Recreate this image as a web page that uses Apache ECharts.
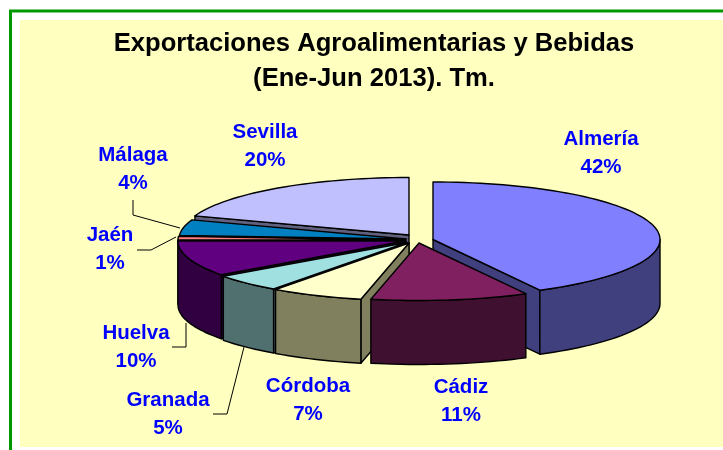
<!DOCTYPE html>
<html>
<head>
<meta charset="utf-8">
<style>
  html, body { margin: 0; padding: 0; background: #fff; }
  #chart { width: 723px; height: 450px; }
</style>
<script src="https://cdn.jsdelivr.net/npm/echarts@6/dist/echarts.min.js"></script>
</head>
<body>
<div id="chart"></div>
<script>
// data, shares estimated from the slice edges; labels show them rounded
const provinces = ['Almería', 'Cádiz', 'Córdoba', 'Granada', 'Huelva', 'Jaén', 'Málaga', 'Sevilla']
const shares = [42.2, 11.2, 6.6, 5, 10, 1, 4.4, 19.6]

// slice colours, top face and walls
const topColors = ['#8080FF', '#802060', '#FFFFCC', '#A0E0E0', '#600080', '#FF8080', '#0080C0', '#C0C0FF']
const sideColors = ['#40407F', '#401030', '#80805F', '#507070', '#300040', '#7F4040', '#004060', '#60607F']

// pie layout: apex of each slice after explosion, same order as provinces
const apexX = [433, 419, 409, 407, 405, 405, 406, 409]
const apexY = [239.5, 243, 243, 242.5, 241, 240, 239, 235]
const radiusX = 227
const radiusY = 57.5
const depth = 64

// back to front
const drawOrder = [7, 6, 5, 4, 3, 2, 0, 1]

// label centres and leader lines
const labelX = [601, 461, 308, 168, 136, 110, 133, 265]
const labelY = [153, 401, 400, 414, 347, 249, 169, 146]
const leaders = [
  [[133, 200], [133, 215], [180, 228]],
  [[176, 237], [151, 250], [137, 250]],
  [[186, 323], [186, 347], [172, 347]],
  [[244, 347], [227, 414], [213, 414]]
]

// cumulative start angle of each slice, clockwise from 12 o'clock
const total = shares.reduce((a, b) => a + b, 0)
const startAngles = []
let acc = 0
shares.forEach((v) => {
  startAngles.push((acc / total) * 360)
  acc += v
})

function rim(i, deg, drop) {
  const r = (deg * Math.PI) / 180
  return [apexX[i] + radiusX * Math.sin(r), apexY[i] - radiusY * Math.cos(r) + (drop || 0)]
}

function arcPoints(i, from, to, drop) {
  const pts = []
  const n = Math.max(2, Math.ceil(Math.abs(to - from) / 2))
  for (let k = 0; k <= n; k++) {
    pts.push(rim(i, from + ((to - from) * k) / n, drop))
  }
  return pts
}

function face(points, fill) {
  return {
    type: 'polygon',
    shape: { points },
    style: { fill, stroke: '#000', lineWidth: 1.4, lineJoin: 'round' }
  }
}

function renderSlice(params, api) {
  const i = api.value(0)
  const a = startAngles[i]
  const b = a + (shares[i] / total) * 360
  const apex = [apexX[i], apexY[i]]
  const apexLow = [apexX[i], apexY[i] + depth]
  const children = []

  // cut walls, only those that face the viewer
  const sinA = Math.sin((a * Math.PI) / 180)
  const sinB = Math.sin((b * Math.PI) / 180)
  if (sinA < -0.001) {
    children.push(face([apex, rim(i, a), rim(i, a, depth), apexLow], sideColors[i]))
  }
  if (sinB > 0.001) {
    children.push(face([apex, rim(i, b), rim(i, b, depth), apexLow], sideColors[i]))
  }

  // outer wall, front half of the ellipse
  const from = Math.max(a, 90)
  const to = Math.min(b, 270)
  if (to > from) {
    const upper = arcPoints(i, from, to, 0)
    const lower = arcPoints(i, from, to, depth).reverse()
    children.push(face(upper.concat(lower), sideColors[i]))
  }

  // top face
  children.push(face([apex].concat(arcPoints(i, a, b, 0)), topColors[i]))

  return { type: 'group', children }
}

function renderLabel(params, api) {
  const i = api.value(0)
  return {
    type: 'text',
    x: labelX[i],
    y: labelY[i],
    style: {
      text: provinces[i] + '\n' + Math.round(shares[i]) + '%',
      fill: '#0000FF',
      font: 'bold 20.5px "Liberation Sans", Arial, sans-serif',
      lineHeight: 28,
      align: 'center',
      verticalAlign: 'middle'
    }
  }
}

const chart = echarts.init(document.getElementById('chart'), null, { renderer: 'canvas' })

chart.setOption({
  animation: false,
  title: {
    text: 'Exportaciones Agroalimentarias y Bebidas\n(Ene-Jun 2013). Tm.',
    left: 369,
    top: 21,
    textAlign: 'center',
    textStyle: {
      fontFamily: '"Liberation Sans", Arial, sans-serif',
      fontWeight: 'bold',
      fontSize: 25.6,
      lineHeight: 35,
      color: '#000'
    }
  },
  graphic: [
    {
      type: 'rect',
      z: -10,
      shape: { x: 10.5, y: 11, width: 800, height: 600 },
      style: { fill: '#fff', stroke: '#009900', lineWidth: 3 }
    },
    {
      type: 'rect',
      z: -9,
      shape: { x: 20, y: 20, width: 703, height: 427 },
      style: { fill: '#FFFFC0' }
    }
  ].concat(
    leaders.map((points) => ({
      type: 'polyline',
      z: 5,
      shape: { points },
      style: { fill: null, stroke: '#000', lineWidth: 1 }
    }))
  ),
  series: [
    {
      type: 'custom',
      coordinateSystem: 'none',
      data: drawOrder.map((i) => [i]),
      renderItem: renderSlice,
      silent: true,
      z: 3
    },
    {
      type: 'custom',
      coordinateSystem: 'none',
      data: provinces.map((p, i) => [i]),
      renderItem: renderLabel,
      silent: true,
      z: 6
    }
  ]
})
</script>
</body>
</html>
